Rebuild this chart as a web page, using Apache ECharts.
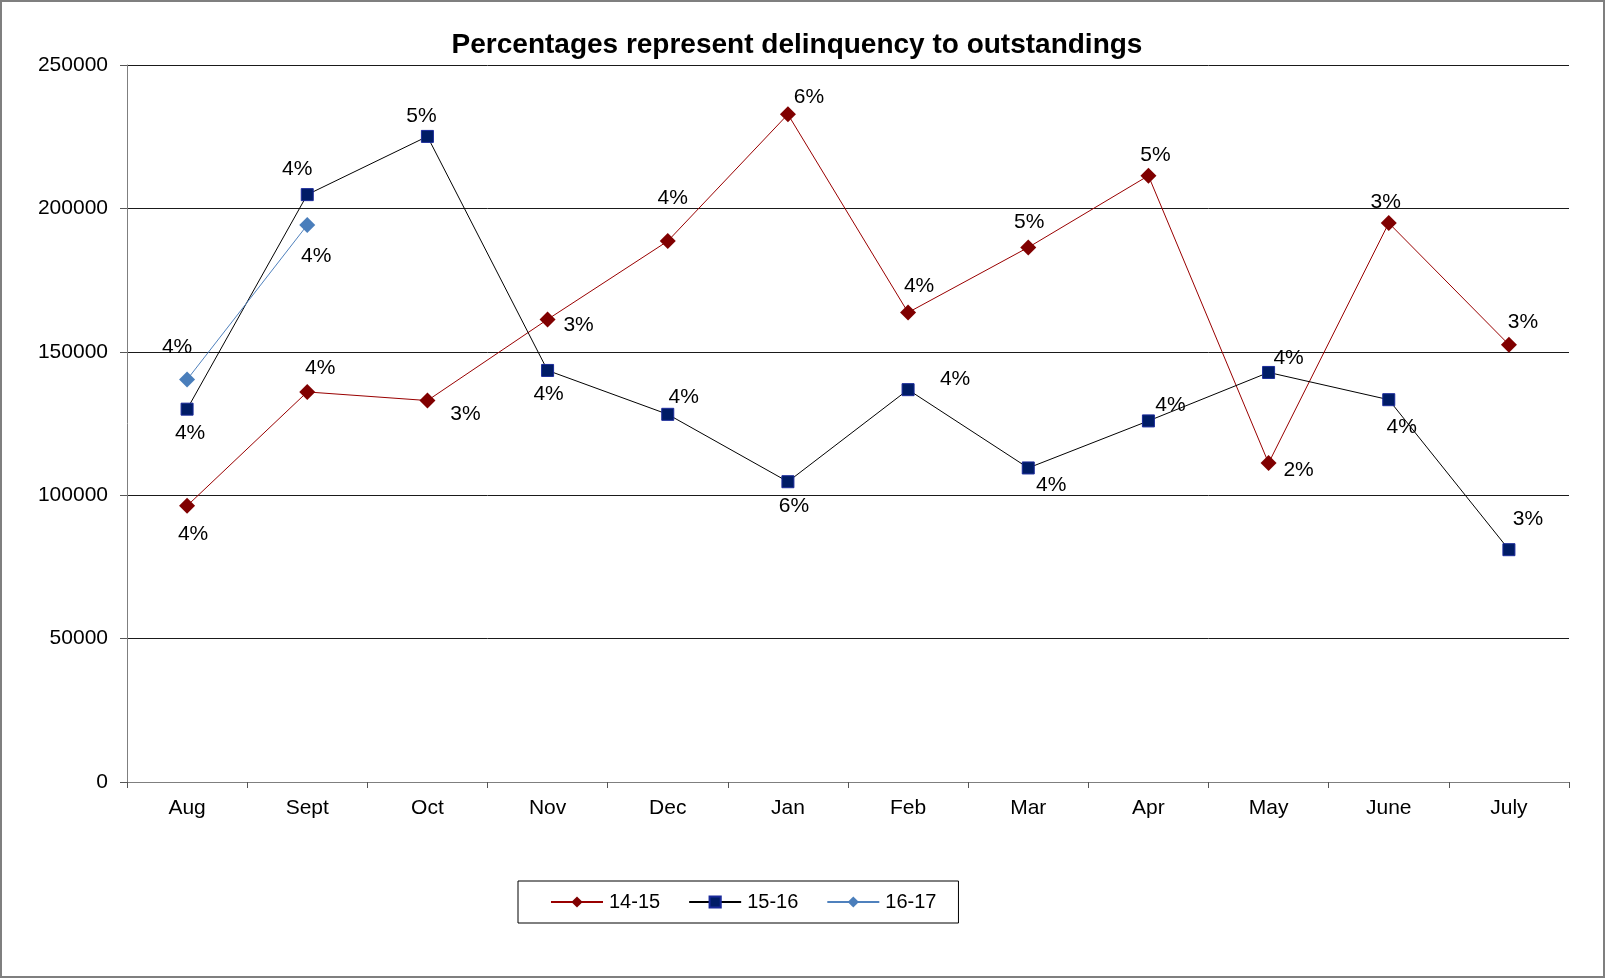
<!DOCTYPE html>
<html>
<head>
<meta charset="utf-8">
<title>Delinquency to outstandings</title>
<script src="https://cdn.jsdelivr.net/npm/echarts@6/dist/echarts.min.js"></script>
<style>
  html, body { margin: 0; padding: 0; background: #fff; }
  #chart { width: 1606px; height: 979px; }
</style>
</head>
<body>
<div id="chart"></div>
<script>
// Months of the fiscal year
const months = ['Aug', 'Sept', 'Oct', 'Nov', 'Dec', 'Jan', 'Feb', 'Mar', 'Apr', 'May', 'June', 'July'];

// Delinquent amounts per month, by fiscal year
const fy1415 = [96300, 136000, 133000, 161300, 188600, 232800, 163700, 186400, 211400, 111200, 194900, 152500];
const fy1516 = [130000, 204800, 225100, 143500, 128200, 104700, 136800, 109500, 125900, 142800, 133300, 81000];
const fy1617 = [140300, 194200];

// Delinquency as a share of outstandings
const pct1415 = ['4%', '4%', '3%', '3%', '4%', '6%', '4%', '5%', '5%', '2%', '3%', '3%'];
const pct1516 = ['4%', '4%', '5%', '4%', '4%', '6%', '4%', '4%', '4%', '4%', '4%', '3%'];
const pct1617 = ['4%', '4%'];

// Y axis ticks
const yTicks = [0, 50000, 100000, 150000, 200000, 250000];

// Label placement (pixel offsets from each marker's centre)
const off1415 = [[6, 28], [13, -24], [38, 14], [31, 6], [5, -43], [21, -17], [11, -26], [1, -25], [7, -21], [30, 7], [-3, -21], [14, -22]];
const off1516 = [[3, 24], [-10, -25], [-6, -20], [1, 24], [16, -17], [6, 24], [47, -10], [23, 17], [22, -16], [20, -14], [13, 28], [19, -30]];
const off1617 = [[-10, -32], [9, 31]];

const FONT = '"Liberation Sans", Arial, Helvetica, sans-serif';

function points(values, labels, offsets) {
  return values.map((v, i) => ({
    value: v,
    label: {
      show: true,
      position: 'inside',
      offset: offsets[i],
      formatter: labels[i],
      color: '#000',
      fontSize: 21,
      fontFamily: FONT
    }
  }));
}

const chart = echarts.init(document.getElementById('chart'), null, { renderer: 'canvas' });

chart.setOption({
  backgroundColor: '#fff',
  animation: false,
  graphic: [
    {
      type: 'rect',
      shape: { x: 1, y: 1, width: 1603, height: 976 },
      style: { fill: 'none', stroke: '#7f7f7f', lineWidth: 2 },
      silent: true
    },
    {
      type: 'text',
      x: 797,
      y: 45,
      style: {
        text: 'Percentages represent delinquency to outstandings',
        font: 'bold 28px ' + FONT,
        fill: '#000',
        textAlign: 'center',
        textVerticalAlign: 'middle'
      }
    }
  ],
  grid: { left: 127, right: 37, top: 65, bottom: 197, containLabel: false },
  legend: {
    left: 518,
    top: 881,
    orient: 'horizontal',
    itemWidth: 52,
    itemHeight: 14,
    itemGap: 28,
    padding: [11, 22, 11, 32],
    borderColor: '#000',
    borderWidth: 1,
    textStyle: { fontSize: 20, fontFamily: FONT, color: '#000', padding: [0, 0, 0, 1] },
    data: ['14-15', '15-16', '16-17']
  },
  xAxis: {
    type: 'category',
    data: months,
    boundaryGap: true,
    axisLine: { lineStyle: { color: '#7f7f7f', width: 1 } },
    axisTick: { show: true, length: 6, lineStyle: { color: '#555' } },
    axisLabel: { fontSize: 21, fontFamily: FONT, color: '#000', margin: 16 },
    splitLine: { show: false }
  },
  yAxis: {
    type: 'value',
    min: yTicks[0],
    max: yTicks[yTicks.length - 1],
    interval: yTicks[1] - yTicks[0],
    axisLine: { show: true, lineStyle: { color: '#7f7f7f', width: 1 } },
    axisTick: { show: true, length: 7, lineStyle: { color: '#555' } },
    axisLabel: {
      fontSize: 21, fontFamily: FONT, color: '#000', margin: 19,
      formatter: (v) => String(v)
    },
    splitLine: { show: true, lineStyle: { color: '#1a1a1a', width: 1 } }
  },
  series: [
    {
      name: '14-15',
      type: 'line',
      data: points(fy1415, pct1415, off1415),
      symbol: 'diamond',
      symbolSize: 16,
      lineStyle: { color: '#990000', width: 1 },
      itemStyle: { color: '#800000' },
      z: 3
    },
    {
      name: '15-16',
      type: 'line',
      data: points(fy1516, pct1516, off1516),
      symbol: 'rect',
      symbolSize: 12,
      lineStyle: { color: '#000', width: 1 },
      itemStyle: { color: '#001c66', borderColor: '#1a2a9a', borderWidth: 1 },
      z: 4
    },
    {
      name: '16-17',
      type: 'line',
      data: points(fy1617, pct1617, off1617),
      symbol: 'diamond',
      symbolSize: 16,
      lineStyle: { color: '#4f81bd', width: 1 },
      itemStyle: { color: '#4a7ebb' },
      z: 5
    }
  ]
});
</script>
</body>
</html>
